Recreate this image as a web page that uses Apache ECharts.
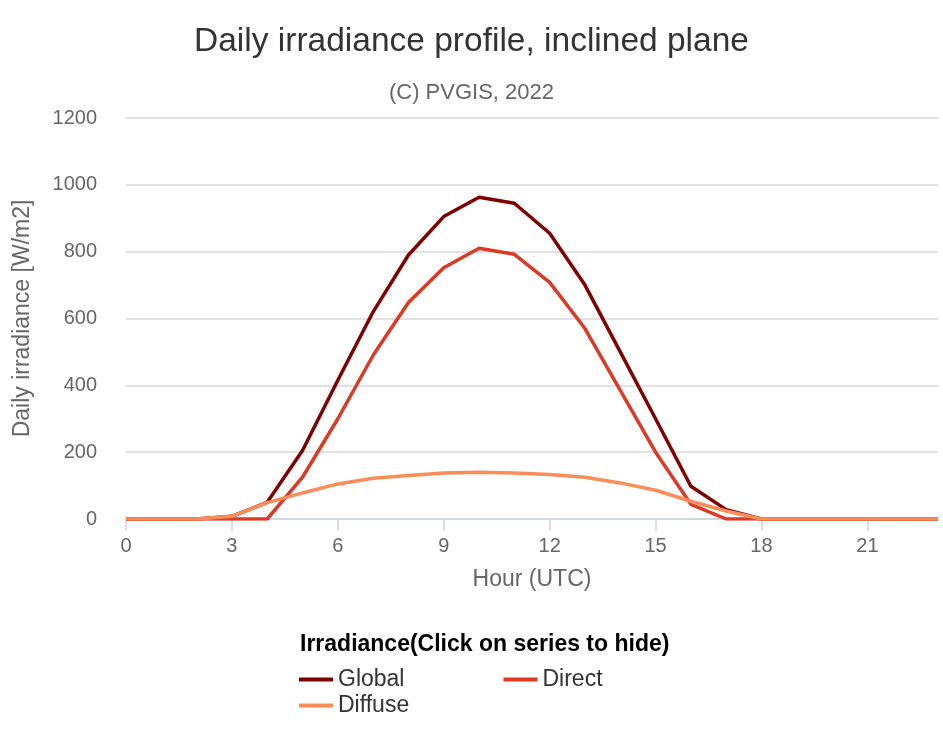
<!DOCTYPE html>
<html>
<head>
<meta charset="utf-8">
<script src="https://cdn.jsdelivr.net/npm/echarts@6/dist/echarts.min.js"></script>
<style>
  html, body { margin: 0; padding: 0; background: #fff; }
  #chart { width: 943px; height: 748px; }
</style>
</head>
<body>
<div id="chart"></div>
<script>
// Daily irradiance profile - PVGIS style line chart

const hours = [0, 1, 2, 3, 4, 5, 6, 7, 8, 9, 10, 11, 12, 13, 14, 15, 16, 17, 18, 19, 20, 21, 22, 23];
const globalIrr = [0, 0, 0, 8, 50, 205, 415, 620, 790, 905, 963, 945, 855, 700, 500, 300, 98, 28, 0, 0, 0, 0, 0, 0];
const directIrr = [0, 0, 0, 0, 0, 125, 300, 490, 648, 752, 810, 792, 708, 570, 385, 200, 44, 0, 0, 0, 0, 0, 0, 0];
const diffuseIrr = [0, 0, 0, 8, 49, 78, 105, 122, 130, 138, 140, 138, 133, 125, 108, 86, 53, 24, 0, 0, 0, 0, 0, 0];
const yTicks = [0, 200, 400, 600, 800, 1000, 1200];

const FONT = '"Liberation Sans", Arial, Helvetica, sans-serif';

const pairs = arr => hours.map((h, i) => [h, arr[i]]);

const chart = echarts.init(document.getElementById('chart'));

const option = {
  animation: false,
  backgroundColor: '#fff',
  textStyle: { fontFamily: FONT },
  title: [
    {
      text: 'Daily irradiance profile, inclined plane',
      left: 'center',
      top: 20,
      textStyle: { fontSize: 33.5, fontWeight: 'normal', color: '#333', fontFamily: FONT }
    },
    {
      text: '(C) PVGIS, 2022',
      left: 'center',
      top: 77,
      textStyle: { fontSize: 22, fontWeight: 'normal', color: '#666', fontFamily: FONT }
    },
    {
      text: 'Irradiance(Click on series to hide)',
      left: 295,
      top: 628,
      textStyle: { fontSize: 23, fontWeight: 'bold', color: '#000', fontFamily: FONT }
    }
  ],
  grid: {
    left: 126,
    right: 5,
    top: 118,
    bottom: 229,
    outerBoundsMode: 'none',
    containLabel: false
  },
  xAxis: {
    type: 'value',
    min: 0,
    max: 23,
    interval: 3,
    name: 'Hour (UTC)',
    nameLocation: 'middle',
    nameGap: 49,
    nameTextStyle: { fontSize: 23, color: '#666' },
    axisLine: { show: true, lineStyle: { color: '#ccd6eb', width: 1.5 } },
    axisTick: { show: true, length: 12, lineStyle: { color: '#ccd6eb', width: 1.5 } },
    axisLabel: { fontSize: 20, color: '#666', margin: 17, showMaxLabel: false },
    splitLine: { show: false }
  },
  yAxis: {
    type: 'value',
    min: yTicks[0],
    max: yTicks[yTicks.length - 1],
    interval: 200,
    name: 'Daily irradiance [W/m2]',
    nameLocation: 'middle',
    nameGap: 92,
    nameTextStyle: { fontSize: 23, color: '#666' },
    axisLine: { show: false },
    axisTick: { show: false },
    axisLabel: { fontSize: 20, color: '#666', margin: 29, formatter: v => String(v) },
    splitLine: { lineStyle: { color: '#d8d8d8', width: 1.5 } }
  },
  legend: [
    {
      data: ['Global', 'Direct'],
      left: 294,
      top: 663,
      icon: 'rect',
      itemWidth: 34,
      itemHeight: 4,
      itemGap: 99,
      textStyle: { fontSize: 23, color: '#333' }
    },
    {
      data: ['Diffuse'],
      left: 294,
      top: 689,
      icon: 'rect',
      itemWidth: 34,
      itemHeight: 4,
      textStyle: { fontSize: 23, color: '#333' }
    }
  ],
  series: [
    {
      name: 'Global',
      type: 'line',
      data: pairs(globalIrr),
      symbol: 'none',
      color: '#800000',
      lineStyle: { width: 3.5 },
      z: 3
    },
    {
      name: 'Direct',
      type: 'line',
      data: pairs(directIrr),
      symbol: 'none',
      color: '#dc3a26',
      lineStyle: { width: 3.5 },
      z: 4
    },
    {
      name: 'Diffuse',
      type: 'line',
      data: pairs(diffuseIrr),
      symbol: 'none',
      color: '#fc8d59',
      lineStyle: { width: 3.5 },
      z: 5
    }
  ]
};

chart.setOption(option);
</script>
</body>
</html>
